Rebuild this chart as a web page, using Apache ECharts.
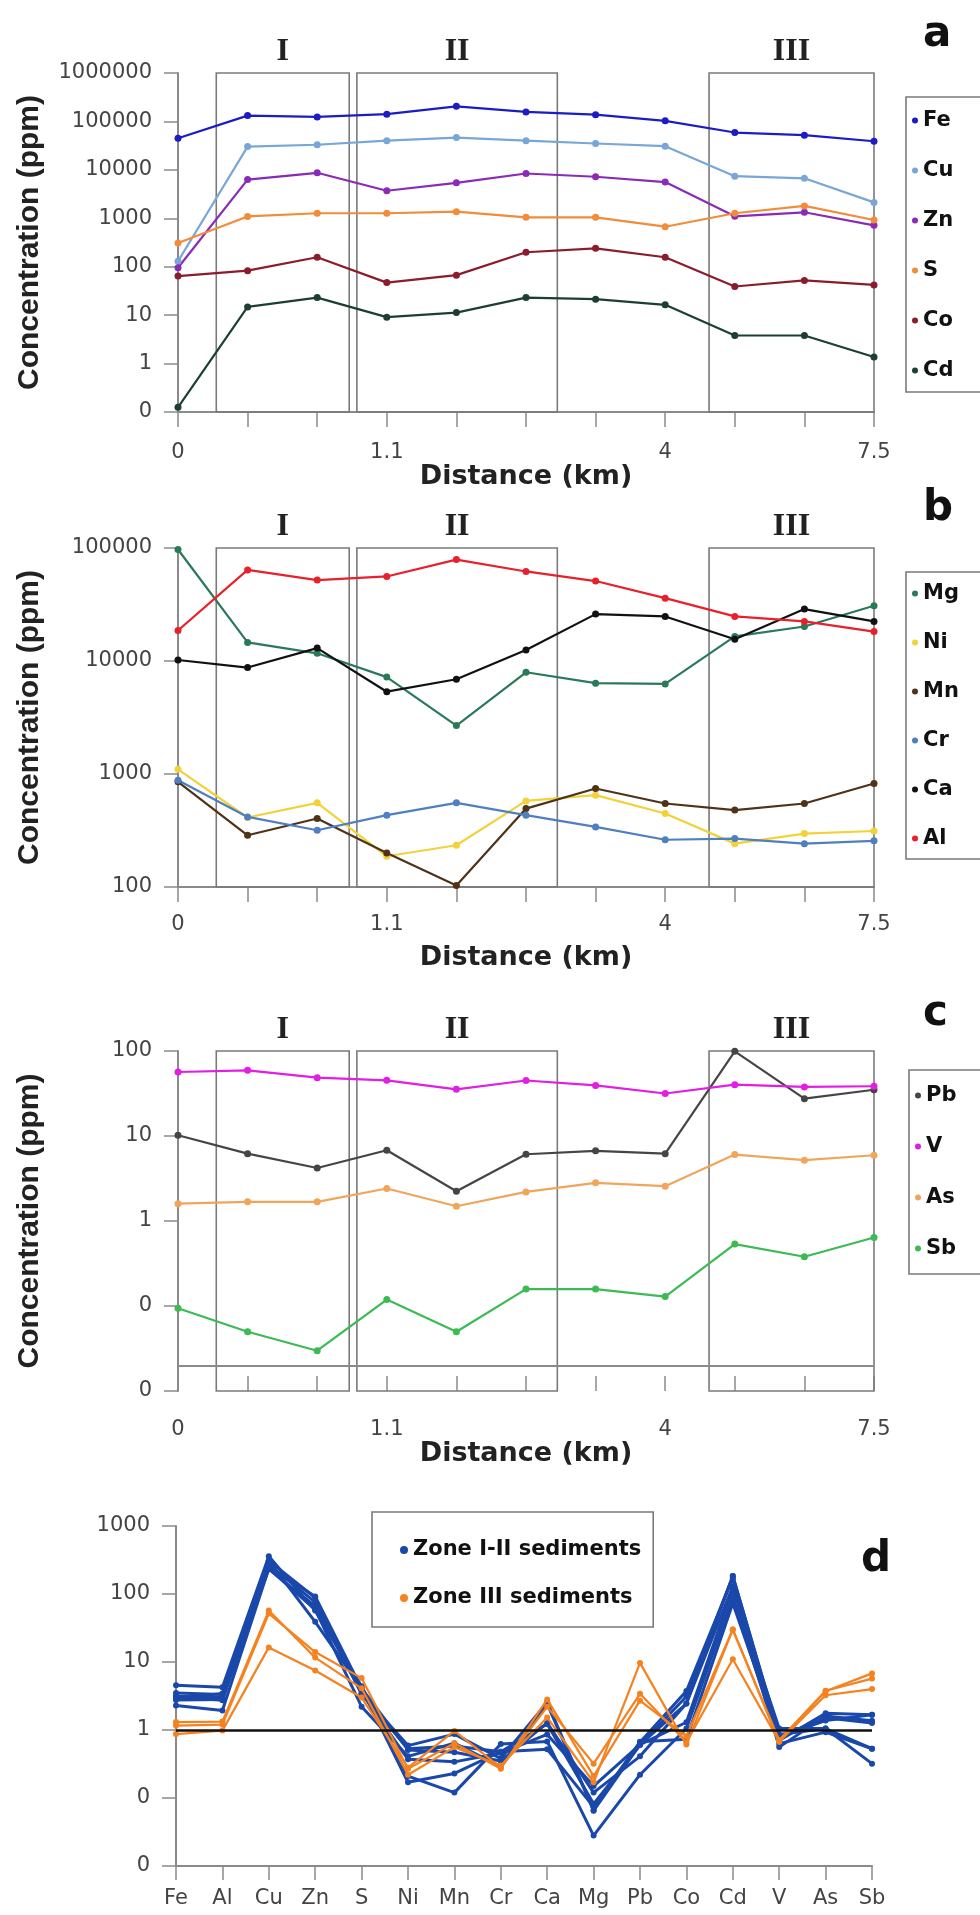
<!DOCTYPE html>
<html>
<head>
<meta charset="utf-8">
<title>Element concentrations along the transect</title>
<script src="https://cdn.jsdelivr.net/npm/echarts@6.0.0/dist/echarts.min.js"></script>
<style>
  html, body { margin: 0; padding: 0; background: #fff; }
  #chart { width: 980px; height: 1915px; }
</style>
</head>
<body>
<div id="chart"></div>
<script>
// sampling points along the transect (index) and the distance labels shown under them
const sampleIdx = [0, 1, 2, 3, 4, 5, 6, 7, 8, 9, 10];
const distTicks = [0, 3, 7, 10];
const distLabels = ['0', '1.1', '4', '7.5'];

// zones, in sample-index units
const zoneNames = ['I', 'II', 'III'];
const zoneFrom = [0.55, 2.57, 7.63];
const zoneTo = [2.46, 5.45, 10.17];

// panel a (ppm)
const feVals = [45000, 132000, 124000, 141000, 205000, 157000, 138000, 103000, 59000, 52000, 39000];
const cuVals = [130, 30200, 33000, 40000, 46500, 40000, 35000, 30800, 7400, 6700, 2130];
const znVals = [95, 6300, 8700, 3700, 5400, 8400, 7200, 5600, 1100, 1330, 715];
const sVals = [310, 1090, 1270, 1270, 1370, 1045, 1045, 670, 1270, 1800, 920];
const coVals = [64, 83, 157, 47, 67, 199, 240, 157, 39, 52, 42];
const cdVals = [0.125, 14.8, 23, 9.1, 11.3, 23, 21.4, 16.3, 3.8, 3.8, 1.37];

// panel b (ppm)
const mgVals = [97000, 14600, 11700, 7200, 2680, 7950, 6360, 6270, 16500, 20200, 30800];
const niVals = [1100, 412, 556, 187, 234, 578, 650, 447, 242, 297, 313];
const mnVals = [853, 287, 404, 200, 103, 494, 744, 548, 479, 548, 824];
const crVals = [880, 417, 318, 432, 556, 432, 340, 262, 268, 242, 256];
const caVals = [10200, 8750, 13000, 5350, 6900, 12500, 26000, 24800, 15600, 28800, 22400];
const alVals = [18600, 64000, 52000, 56000, 79000, 62000, 51000, 36000, 24800, 22400, 18200];

// panel c (ppm)
const pbVals = [10.2, 6.2, 4.2, 6.8, 2.24, 6.1, 6.7, 6.2, 99, 27.5, 35];
const vVals = [56.6, 59.3, 48.6, 45.2, 35.4, 45, 39.4, 31.6, 40.2, 37.8, 38.5];
const asVals = [1.6, 1.68, 1.68, 2.41, 1.49, 2.2, 2.81, 2.57, 6.05, 5.19, 5.94];
const sbVals = [0.094, 0.0498, 0.0298, 0.119, 0.0498, 0.158, 0.158, 0.129, 0.535, 0.38, 0.64];

// panel d: enrichment relative to the first sample
const elements = ['Fe', 'Al', 'Cu', 'Zn', 'S', 'Ni', 'Mn', 'Cr', 'Ca', 'Mg', 'Pb', 'Co', 'Cd', 'V', 'As', 'Sb'];
const zone12Samples = [
  [2.93, 3.44, 232, 66, 3.5, 0.37, 0.34, 0.46, 0.86, 0.15, 0.61, 1.30, 118, 1.05, 1.05, 0.53],
  [2.76, 2.80, 254, 92, 4.1, 0.51, 0.47, 0.35, 1.27, 0.12, 0.41, 2.45, 184, 0.86, 1.05, 0.32],
  [3.13, 3.01, 308, 39, 4.1, 0.17, 0.23, 0.48, 0.52, 0.074, 0.67, 0.73, 73, 0.80, 1.51, 1.27],
  [4.56, 4.25, 358, 57, 4.4, 0.21, 0.12, 0.62, 0.68, 0.028, 0.22, 1.05, 90, 0.63, 0.93, 0.53],
  [3.49, 3.33, 308, 88, 3.4, 0.53, 0.58, 0.48, 1.23, 0.082, 0.60, 3.11, 184, 0.80, 1.38, 1.68],
  [3.07, 2.74, 269, 76, 3.4, 0.59, 0.87, 0.38, 2.55, 0.066, 0.66, 3.75, 171, 0.70, 1.76, 1.68],
  [2.29, 1.94, 237, 59, 2.2, 0.41, 0.64, 0.29, 2.43, 0.065, 0.61, 2.45, 130, 0.56, 1.61, 1.37],
];
const zone3Samples = [
  [1.31, 1.33, 57, 11.6, 4.1, 0.22, 0.56, 0.30, 1.53, 0.17, 9.7, 0.61, 30, 0.71, 3.78, 5.7],
  [1.16, 1.20, 51.5, 14, 5.8, 0.27, 0.64, 0.27, 2.82, 0.21, 2.7, 0.81, 30, 0.67, 3.24, 4.0],
  [0.87, 0.98, 16.4, 7.5, 3.0, 0.28, 0.97, 0.28, 2.20, 0.32, 3.4, 0.66, 11, 0.68, 3.71, 6.8],
];

(() => {
  const chart = echarts.init(document.getElementById('chart'), null, { renderer: 'canvas' });

  const SANS = 'DejaVu Sans';
  const AXIS_GREY = '#8a8a8a';
  const BOX_GREY = '#7a7a7a';
  const tickText = { fontFamily: SANS, fontSize: 21, color: '#444' };
  const nameText = { fontFamily: SANS, fontWeight: 'bold', fontSize: 27, color: '#222' };
  const vNameText = { fontFamily: 'Liberation Sans', fontWeight: 'bold', fontSize: 30, color: '#222' };
  const legendText = { fontFamily: SANS, fontWeight: 'bold', fontSize: 21, color: '#111', lineHeight: 20 };

  const panels = [
    {
      grid: { left: 178, top: 73, width: 696, height: 339 },
      min: 0.1, max: 1e6, decades: 7, nameGap: 51, labelMargin: 30,
      names: ['Fe', 'Cu', 'Zn', 'S', 'Co', 'Cd'],
      colors: ['#1c1cc4', '#78a6d6', '#8a2bb8', '#f08c3a', '#8b1c2c', '#1d3f33'],
      values: [feVals, cuVals, znVals, sVals, coVals, cdVals],
      legend: { left: 906, top: 97, itemGap: 29, padding: [13, 30, 11, 6] },
    },
    {
      grid: { left: 178, top: 548, width: 696, height: 339 },
      min: 100, max: 1e5, decades: 3, nameGap: 57, labelMargin: 27,
      names: ['Mg', 'Ni', 'Mn', 'Cr', 'Ca', 'Al'],
      colors: ['#2a7a5a', '#f2d23a', '#4f3218', '#4f7fbf', '#111111', '#e8202c'],
      values: [mgVals, niVals, mnVals, crVals, caVals, alVals],
      legend: { left: 906, top: 572, itemGap: 28, padding: [11, 30, 10, 6] },
    },
    {
      grid: { left: 178, top: 1051, width: 696, height: 340 },
      min: 0.01, max: 100, decades: 4, nameGap: 38, labelMargin: 28, ticksInside: true,
      names: ['Pb', 'V', 'As', 'Sb'],
      colors: ['#454545', '#e21ee2', '#f0a65a', '#3cba54'],
      values: [pbVals, vVals, asVals, sbVals],
      legend: { left: 909, top: 1070, itemGap: 30, padding: [15, 30, 15, 6] },
    },
  ];

  function logLabel(v) {
    return v >= 1 ? String(Math.round(v)) : '0';
  }

  const grids = [];
  const xAxes = [];
  const yAxes = [];
  const series = [];
  const legends = [];

  panels.forEach((p, gi) => {
    grids.push(p.grid);
    xAxes.push({
      type: 'value', gridIndex: gi, min: 0, max: 10,
      name: 'Distance (km)', nameLocation: 'middle', nameGap: p.nameGap,
      nameTextStyle: nameText,
      axisLine: { show: !p.ticksInside, lineStyle: { color: AXIS_GREY, width: 2 } },
      axisTick: {
        show: true, inside: !!p.ticksInside, length: 15, customValues: sampleIdx,
        lineStyle: { color: AXIS_GREY, width: 1.5 },
      },
      axisLabel: {
        customValues: distTicks, margin: p.labelMargin,
        formatter: (v) => distLabels[distTicks.indexOf(v)] ?? '',
        ...tickText,
      },
      splitLine: { show: false },
    });
    yAxes.push({
      type: 'log', logBase: 10, gridIndex: gi, min: p.min, max: p.max, splitNumber: p.decades,
      name: 'Concentration (ppm)', nameLocation: 'middle', nameGap: 133, nameRotate: 90,
      nameTextStyle: vNameText,
      axisLine: { show: true, lineStyle: { color: AXIS_GREY, width: 2 } },
      axisTick: { show: true, length: 14, lineStyle: { color: AXIS_GREY, width: 1.5 } },
      axisLabel: { formatter: logLabel, margin: 26, ...tickText },
      splitLine: { show: false },
    });

    p.names.forEach((name, si) => {
      const color = p.colors[si];
      const s = {
        name, type: 'line', xAxisIndex: gi, yAxisIndex: gi,
        data: p.values[si].map((v, i) => [sampleIdx[i], v]),
        symbol: 'circle', symbolSize: 7,
        lineStyle: { color, width: 2.2 },
        itemStyle: { color },
        emphasis: { disabled: true },
        z: 3,
      };
      if (si === 0) {
        s.clip = false;
        s.markArea = {
          silent: true,
          itemStyle: { color: 'rgba(0,0,0,0)', borderColor: BOX_GREY, borderWidth: 1.6 },
          label: {
            show: true, position: 'top', distance: 4,
            fontFamily: 'Liberation Serif', fontWeight: 'bold', fontSize: 32, color: '#222',
          },
          data: zoneNames.map((n, i) => [
            { name: n, xAxis: zoneFrom[i], yAxis: p.min },
            { xAxis: zoneTo[i], yAxis: p.max },
          ]),
        };
        if (p.ticksInside) {
          s.markLine = {
            silent: true, symbol: 'none', label: { show: false },
            lineStyle: { color: AXIS_GREY, width: 2, type: 'solid' },
            data: [{ yAxis: 0.0155 }],
          };
        }
      }
      series.push(s);
    });

    legends.push({
      orient: 'vertical', left: p.legend.left, top: p.legend.top,
      data: p.names, icon: 'circle', itemWidth: 6, itemHeight: 6,
      itemGap: p.legend.itemGap, padding: p.legend.padding,
      borderColor: BOX_GREY, borderWidth: 1.6, selectedMode: false,
      textStyle: legendText,
    });
  });

  // panel d
  const gd = 3;
  grids.push({ left: 176, top: 1526, width: 696, height: 340 });
  xAxes.push({
    type: 'category', gridIndex: gd, data: elements, boundaryGap: false,
    axisLine: { show: true, lineStyle: { color: AXIS_GREY, width: 2 } },
    axisTick: { show: true, length: 14, lineStyle: { color: AXIS_GREY, width: 1.5 } },
    axisLabel: { margin: 22, interval: 0, ...tickText },
    splitLine: { show: false },
  });
  yAxes.push({
    type: 'log', logBase: 10, gridIndex: gd, min: 0.01, max: 1000, splitNumber: 5,
    axisLine: { show: true, lineStyle: { color: AXIS_GREY, width: 2 } },
    axisTick: { show: true, length: 14, lineStyle: { color: AXIS_GREY, width: 1.5 } },
    axisLabel: { formatter: logLabel, margin: 26, ...tickText },
    splitLine: { show: false },
  });

  const BLUE = '#1a48aa';
  const ORANGE = '#f5821f';
  zone12Samples.forEach((vals, i) => {
    const s = {
      name: 'Zone I-II sediments', type: 'line', xAxisIndex: gd, yAxisIndex: gd,
      data: vals, symbol: 'circle', symbolSize: 6,
      lineStyle: { color: BLUE, width: 3 }, itemStyle: { color: BLUE },
      emphasis: { disabled: true }, z: 3,
    };
    if (i === 0) {
      s.markLine = {
        silent: true, symbol: 'none', label: { show: false },
        lineStyle: { color: '#111', width: 2.5, type: 'solid' },
        data: [{ yAxis: 1 }],
      };
    }
    series.push(s);
  });
  zone3Samples.forEach((vals) => {
    series.push({
      name: 'Zone III sediments', type: 'line', xAxisIndex: gd, yAxisIndex: gd,
      data: vals, symbol: 'circle', symbolSize: 6,
      lineStyle: { color: ORANGE, width: 2.2 }, itemStyle: { color: ORANGE },
      emphasis: { disabled: true }, z: 4,
    });
  });
  legends.push({
    orient: 'vertical', left: 372, top: 1512,
    data: ['Zone I-II sediments', 'Zone III sediments'],
    icon: 'circle', itemWidth: 8, itemHeight: 8, itemGap: 24, padding: [26, 12, 17, 28],
    borderColor: BOX_GREY, borderWidth: 1.6, selectedMode: false,
    textStyle: { ...legendText, fontSize: 21, lineHeight: 24 },
  });

  const letterStyle = { fontFamily: SANS, fontWeight: 'bold', fontSize: 42, color: '#111' };
  chart.setOption({
    backgroundColor: '#fff',
    animation: false,
    title: [
      { text: 'a', left: 918, top: 9, textStyle: letterStyle },
      { text: 'b', left: 918, top: 483, textStyle: letterStyle },
      { text: 'c', left: 918, top: 988, textStyle: letterStyle },
      { text: 'd', left: 856, top: 1534, textStyle: letterStyle },
    ],
    grid: grids,
    xAxis: xAxes,
    yAxis: yAxes,
    legend: legends,
    series,
  });

  window.addEventListener('resize', () => chart.resize());
})();
</script>
</body>
</html>
